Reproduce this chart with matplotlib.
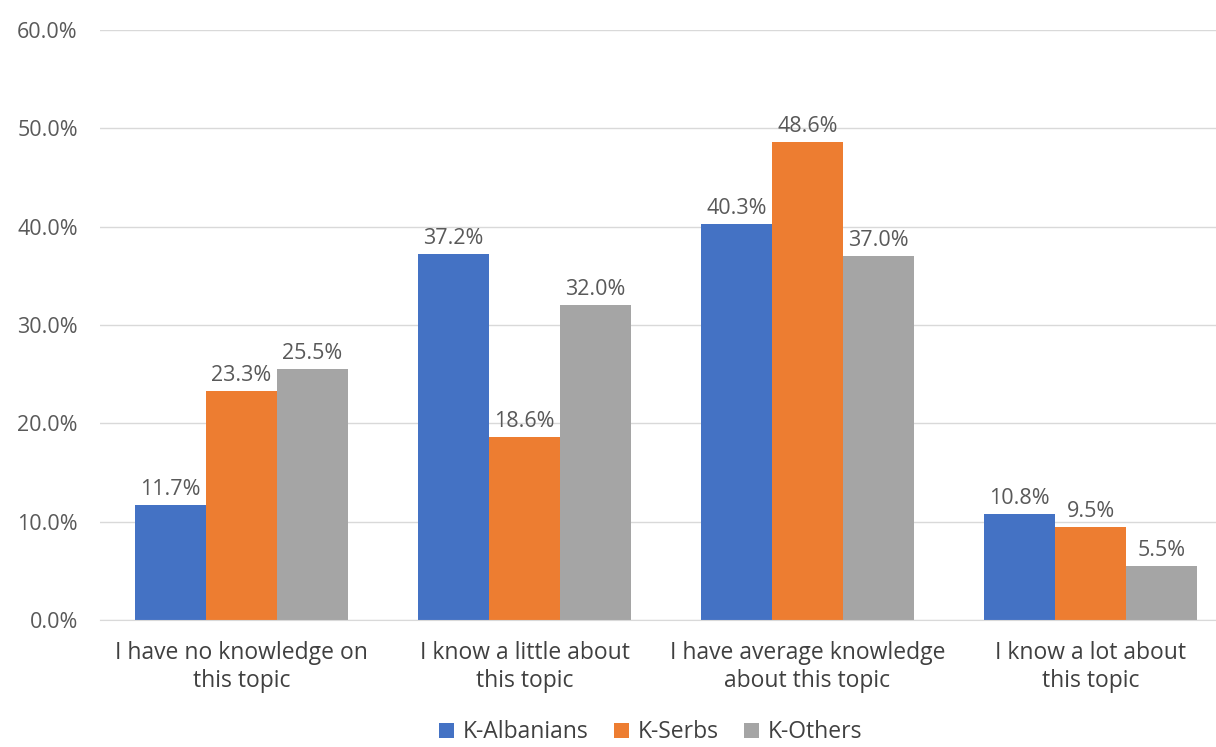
import matplotlib
matplotlib.use("Agg")
import matplotlib.pyplot as plt
import numpy as np

categories = ["I have no knowledge on\nthis topic", "I know a little about\nthis topic",
              "I have average knowledge\nabout this topic", "I know a lot about\nthis topic"]
series_names = ["K-Albanians", "K-Serbs", "K-Others"]
albanians = [11.7, 37.2, 40.3, 10.8]
serbs = [23.3, 18.6, 48.6, 9.5]
others = [25.5, 32.0, 37.0, 5.5]
colors = ["#4472C4", "#ED7D31", "#A5A5A5"]
yticks = [0, 10, 20, 30, 40, 50, 60]

plt.rcParams['font.family'] = ['Open Sans', 'DejaVu Sans']

fig = plt.figure(figsize=(12.16, 7.47), dpi=100)
ax = fig.add_axes([100/1216, 1-620/747, 1116/1216, 590/747])

x = np.arange(len(categories))
w = 0.25
for i, (vals, name, c) in enumerate(zip([albanians, serbs, others], series_names, colors)):
    bars = ax.bar(x + (i-1)*w, vals, w, color=c, label=name, zorder=3)
    for b, v in zip(bars, vals):
        ax.text(b.get_x()+b.get_width()/2, v+0.5, f"{v:.1f}%", ha='center', va='bottom',
                fontsize=15.5, color='#595959')

ax.set_xlim(-0.5, -0.5 + 1116/283)
ax.set_ylim(0, 60)
ax.set_yticks(yticks)
ax.set_yticklabels([f"{t:.1f}%" for t in yticks], fontsize=15.5, color='#595959')
ax.set_xticks(x)
ax.set_xticklabels(categories, fontsize=16.5, color='#404040', linespacing=1.25)
ax.yaxis.grid(True, color='#D9D9D9', linewidth=1, zorder=0)
ax.tick_params(axis='both', length=0)
ax.tick_params(axis='y', pad=16)
ax.tick_params(axis='x', pad=15)
for s in ['top', 'right', 'left']:
    ax.spines[s].set_visible(False)
ax.spines['bottom'].set_color('#D9D9D9')
ax.spines['bottom'].set_zorder(4)

leg = fig.legend(loc='lower center', bbox_to_anchor=(0.535, -0.024), ncol=3, frameon=False,
                 fontsize=16.5, handlelength=0.65, handleheight=0.65, columnspacing=1.1,
                 handletextpad=0.4)
for t in leg.get_texts():
    t.set_color('#404040')

fig.savefig("out.png", dpi=100)
